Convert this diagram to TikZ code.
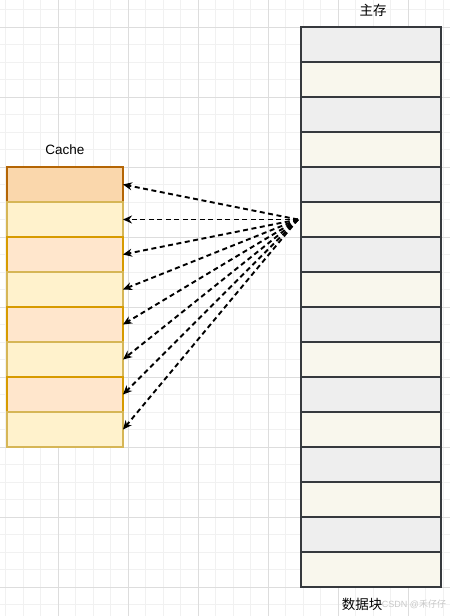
\documentclass[tikz,border=0pt]{standalone}
\usepackage{fontspec}
\setmainfont{Liberation Sans}
\newfontfamily\cjk{Noto Sans CJK SC}
\usetikzlibrary{arrows.meta}
\definecolor{gridminor}{HTML}{F1F1F1}
\definecolor{gridmajor}{HTML}{DDDDDD}
\definecolor{memgray}{HTML}{EEEEEE}
\definecolor{memcream}{HTML}{F9F7ED}
\definecolor{memline}{HTML}{36393D}
\definecolor{cfillA}{HTML}{FAD7AC}
\definecolor{clineA}{HTML}{B46504}
\definecolor{cfillB}{HTML}{FFF2CC}
\definecolor{clineB}{HTML}{D6B656}
\definecolor{cfillC}{HTML}{FFE6CC}
\definecolor{clineC}{HTML}{D79B00}
\definecolor{wm}{HTML}{C8C8C8}
\tikzset{
  cachecell/.style={draw, line width=1.5pt, minimum width=116pt, minimum height=35pt, inner sep=0pt, outer sep=0pt},
  memcell/.style={draw=memline, line width=2pt, minimum width=140pt, minimum height=35pt, inner sep=0pt, outer sep=0pt},
  lbl/.style={inner sep=0pt, font=\fontsize{13.5}{15}\selectfont},
  link/.style={dash pattern=on 5pt off 3.5pt, line width=1.9pt, -{Stealth[length=9pt,width=8pt]}}
}
\begin{document}
\begin{tikzpicture}[x=1pt,y=-1pt]
\useasboundingbox (0,0) rectangle (450,616);
\fill[white] (0,0) rectangle (450,616);
% grid
\foreach \k in {0,...,25} {
  \draw[gridminor, line width=0.8pt] ({5.5+17.5*\k},0) -- ({5.5+17.5*\k},616);
}
\foreach \k in {-1,...,34} {
  \draw[gridminor, line width=0.8pt] (0,{27+17.5*\k}) -- (450,{27+17.5*\k});
}
\foreach \k in {0,...,5} {
  \draw[gridmajor, line width=0.8pt] ({58+70*\k},0) -- ({58+70*\k},616);
}
\foreach \k in {0,...,8} {
  \draw[gridmajor, line width=0.8pt] (0,{27+70*\k}) -- (450,{27+70*\k});
}
% main memory
\foreach \i in {1,...,16} {
  \pgfmathsetmacro{\yy}{27+35*(\i-1)+17.5}
  \ifodd\i
    \node[memcell, fill=memgray] (m\i) at (371,\yy) {};
  \else
    \node[memcell, fill=memcream] (m\i) at (371,\yy) {};
  \fi
}
% cache
\node[cachecell, fill=cfillA, draw=clineA] (c1) at (65,184.5) {};
\node[cachecell, fill=cfillB, draw=clineB] (c2) at (65,219.5) {};
\node[cachecell, fill=cfillC, draw=clineC] (c3) at (65,254.5) {};
\node[cachecell, fill=cfillB, draw=clineB] (c4) at (65,289.5) {};
\node[cachecell, fill=cfillC, draw=clineC] (c5) at (65,324.5) {};
\node[cachecell, fill=cfillB, draw=clineB] (c6) at (65,359.5) {};
\node[cachecell, fill=cfillC, draw=clineC] (c7) at (65,394.5) {};
\node[cachecell, fill=cfillB, draw=clineB] (c8) at (65,429.5) {};
% labels
\node[lbl] (tcache) at (65,150) {Cache};
\node[lbl] (tmain) at (373,10) {\cjk 主存};
\node[lbl] (tblock) at (362,604) {\cjk 数据块};
\node[inner sep=0pt, text=wm, font=\fontsize{9}{11}\selectfont] (twm) at (414,604) {CSDN @\cjk 禾仔仔};
% arrows
\coordinate (o) at (298,219.5);
\foreach \i in {1,...,8} {
  \draw[link] (o) -- (c\i.east);
}
\end{tikzpicture}
\end{document}
